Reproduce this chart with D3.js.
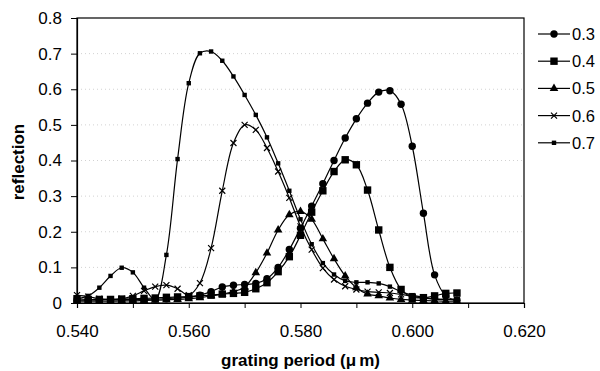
<!DOCTYPE html>
<html>
<head>
<meta charset="utf-8">
<script src="https://cdn.jsdelivr.net/npm/d3@7"></script>
<style>
  html, body { margin: 0; padding: 0; background: #fff; }
  svg { display: block; font-family: "Liberation Sans", Arial, sans-serif; }
</style>
</head>
<body>
<svg id="chart" width="600" height="371"></svg>
<script>
// Grating period (µm) at which reflection was computed
const periods = [0.540, 0.542, 0.544, 0.546, 0.548, 0.550, 0.552, 0.554, 0.556, 0.558,
                 0.560, 0.562, 0.564, 0.566, 0.568, 0.570, 0.572, 0.574, 0.576, 0.578,
                 0.580, 0.582, 0.584, 0.586, 0.588, 0.590, 0.592, 0.594, 0.596, 0.598,
                 0.600, 0.602, 0.604, 0.606, 0.608];

const seriesNames = ["0.3", "0.4", "0.5", "0.6", "0.7"];

const refl03 = [0.008, 0.008, 0.008, 0.009, 0.009, 0.010, 0.010, 0.011, 0.012, 0.014,
                0.016, 0.022, 0.032, 0.045, 0.050, 0.052, 0.055, 0.068, 0.100, 0.150,
                0.210, 0.272, 0.335, 0.400, 0.463, 0.517, 0.561, 0.592, 0.596, 0.558,
                0.440, 0.252, 0.079, 0.020, 0.008];

const refl04 = [0.012, 0.010, 0.010, 0.010, 0.011, 0.012, 0.013, 0.014, 0.016, 0.017,
                0.018, 0.020, 0.022, 0.025, 0.027, 0.030, 0.040, 0.057, 0.088, 0.130,
                0.190, 0.255, 0.315, 0.369, 0.402, 0.388, 0.317, 0.205, 0.100, 0.038,
                0.016, 0.015, 0.020, 0.027, 0.028];

const refl05 = [0.006, 0.005, 0.005, 0.005, 0.006, 0.006, 0.007, 0.008, 0.009, 0.010,
                0.012, 0.015, 0.020, 0.025, 0.032, 0.045, 0.085, 0.140, 0.205, 0.248,
                0.257, 0.235, 0.180, 0.124, 0.076, 0.043, 0.025, 0.020, 0.014, 0.010,
                0.008, 0.007, 0.006, 0.005, 0.005];

const refl06 = [0.022, 0.018, 0.012, 0.010, 0.012, 0.020, 0.034, 0.046, 0.050, 0.040,
                0.022, 0.056, 0.154, 0.315, 0.449, 0.500, 0.486, 0.435, 0.369, 0.295,
                0.215, 0.150, 0.098, 0.066, 0.047, 0.038, 0.032, 0.030, 0.028, 0.024,
                0.019, 0.014, 0.011, 0.010, 0.009];

const refl07 = [0.012, 0.020, 0.043, 0.076, 0.099, 0.086, 0.043, 0.010, 0.135, 0.404,
                0.617, 0.701, 0.706, 0.680, 0.636, 0.584, 0.528, 0.465, 0.392, 0.315,
                0.235, 0.165, 0.112, 0.080, 0.062, 0.058, 0.058, 0.055, 0.046, 0.032,
                0.022, 0.016, 0.012, 0.010, 0.010];

const xTicks = [0.540, 0.550, 0.560, 0.570, 0.580, 0.590, 0.600, 0.610, 0.620];
const xLabels = [0.540, 0.560, 0.580, 0.600, 0.620];
const yTicks = [0, 0.1, 0.2, 0.3, 0.4, 0.5, 0.6, 0.7, 0.8];

const allSeries = [refl03, refl04, refl05, refl06, refl07];
const markers = ["circle", "bigSquare", "triangle", "cross", "smallSquare"];

const svg = d3.select("#chart");
const plot = { left: 77, right: 524, top: 18, bottom: 303 };
const fontFamily = "'Liberation Sans', Arial, sans-serif";

const x = d3.scaleLinear().domain([0.540, 0.620]).range([plot.left, plot.right]);
const y = d3.scaleLinear().domain([0, 0.8]).range([plot.bottom, plot.top]);

// Dotted horizontal gridlines
svg.append("g")
  .selectAll("line")
  .data(yTicks.filter(d => d > 0 && d < 0.8))
  .join("line")
  .attr("x1", plot.left).attr("x2", plot.right)
  .attr("y1", d => y(d)).attr("y2", d => y(d))
  .attr("stroke", "#d2d2d2")
  .attr("stroke-width", 1)
  .attr("stroke-dasharray", "1,3");

// Plot frame
svg.append("rect")
  .attr("x", plot.left).attr("y", plot.top)
  .attr("width", plot.right - plot.left).attr("height", plot.bottom - plot.top)
  .attr("fill", "none").attr("stroke", "#000").attr("stroke-width", 1.2);

// X axis
const xAxis = d3.axisBottom(x)
  .tickValues(xTicks)
  .tickSize(5)
  .tickPadding(17)
  .tickFormat(d => xLabels.some(v => Math.abs(v - d) < 1e-9) ? d3.format(".3f")(d) : "");
const gx = svg.append("g").attr("transform", `translate(0,${plot.bottom})`).call(xAxis);
gx.select(".domain").attr("stroke", "#000").attr("stroke-width", 1.2);
gx.selectAll(".tick line").attr("stroke", "#000");
gx.selectAll(".tick text").attr("font-size", 17).attr("fill", "#000")
  .attr("font-family", fontFamily);

// Y axis
const yAxis = d3.axisLeft(y)
  .tickValues(yTicks)
  .tickSize(6)
  .tickPadding(9)
  .tickFormat(d => d === 0 ? "0" : d3.format(".1f")(d));
const gy = svg.append("g").attr("transform", `translate(${plot.left},0)`).call(yAxis);
gy.select(".domain").attr("stroke", "#000").attr("stroke-width", 1.2);
gy.selectAll(".tick line").attr("stroke", "#000");
gy.selectAll(".tick text").attr("font-size", 17).attr("fill", "#000")
  .attr("font-family", fontFamily);

// Axis titles
const xTitle = svg.append("text")
  .attr("x", (plot.left + plot.right) / 2).attr("y", 366)
  .attr("text-anchor", "middle")
  .attr("font-size", 17).attr("font-weight", "bold");
xTitle.append("tspan").text("grating period (μ");
xTitle.append("tspan").attr("dx", 3).text("m)");

svg.append("text")
  .attr("transform", `translate(24,162) rotate(-90)`)
  .attr("text-anchor", "middle")
  .attr("font-size", 17).attr("font-weight", "bold")
  .text("reflection");

// Marker drawing
function drawMarker(g, type) {
  switch (type) {
    case "circle":
      g.append("circle").attr("r", 3.7).attr("fill", "#000");
      break;
    case "bigSquare":
      g.append("rect").attr("x", -3.7).attr("y", -3.7).attr("width", 7.4).attr("height", 7.4).attr("fill", "#000");
      break;
    case "triangle":
      g.append("path").attr("d", d3.symbol(d3.symbolTriangle, 32)()).attr("fill", "#000");
      break;
    case "cross":
      g.append("path").attr("d", "M-3,-3L3,3M-3,3L3,-3").attr("stroke", "#000").attr("stroke-width", 1.2).attr("fill", "none");
      break;
    case "smallSquare":
      g.append("rect").attr("x", -2.2).attr("y", -2.2).attr("width", 4.4).attr("height", 4.4).attr("fill", "#000");
      break;
  }
}

const line = d3.line()
  .x(d => x(d[0]))
  .y(d => y(d[1]))
  .curve(d3.curveCatmullRom.alpha(0.5));

const clipId = "plotClip";
svg.append("clipPath").attr("id", clipId)
  .append("rect").attr("x", plot.left).attr("y", plot.top)
  .attr("width", plot.right - plot.left).attr("height", plot.bottom - plot.top + 2);

allSeries.forEach((vals, i) => {
  const pts = periods.map((p, j) => [p, vals[j]]);
  const g = svg.append("g");
  g.append("path")
    .datum(pts)
    .attr("d", line)
    .attr("fill", "none")
    .attr("stroke", "#000")
    .attr("stroke-width", 1.2)
    .attr("clip-path", `url(#${clipId})`);
  g.selectAll("g.mk")
    .data(pts)
    .join("g")
    .attr("class", "mk")
    .attr("transform", d => `translate(${x(d[0])},${y(d[1])})`)
    .each(function () { drawMarker(d3.select(this), markers[i]); });
});

// Legend
const legend = svg.append("g").attr("transform", "translate(538,34)");
seriesNames.forEach((name, i) => {
  const row = legend.append("g").attr("transform", `translate(0,${i * 27.2})`);
  row.append("line").attr("x1", 0).attr("x2", 32).attr("y1", 0).attr("y2", 0)
    .attr("stroke", "#000").attr("stroke-width", 1.2);
  const m = row.append("g").attr("transform", "translate(16,0)");
  drawMarker(m, markers[i]);
  row.append("text").attr("x", 34).attr("y", 6)
    .attr("font-size", 16.5).attr("fill", "#000")
    .text(name);
});
</script>
</body>
</html>
